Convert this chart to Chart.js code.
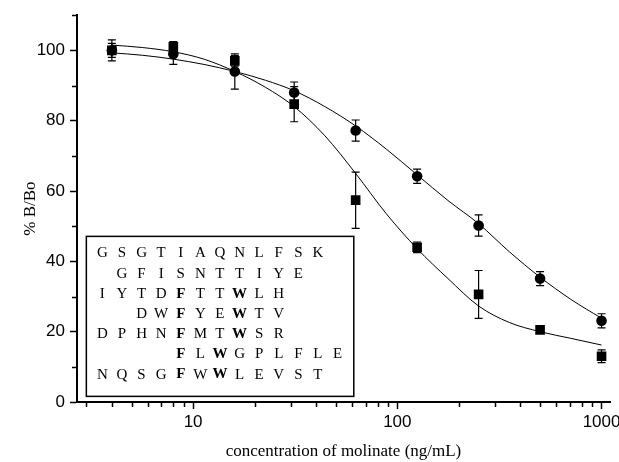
<!DOCTYPE html>
<html>
<head>
<meta charset="utf-8">
<script src="https://cdn.jsdelivr.net/npm/chart.js@4.4.0/dist/chart.umd.min.js"></script>
<style>
    body { margin: 0; background: #fff; }
    #wrap { width: 619px; height: 462px; }
</style>
</head>
<body>
<div id="wrap"><canvas id="chart" width="619" height="462"></canvas></div>
<script>
// concentrations (ng/mL)
const concentrations = [4, 8, 16, 31.25, 62.5, 125, 250, 500, 1000];
// squares
const squareValues = [100, 101, 97, 84.7, 57.4, 44, 30.6, 20.5, 13];
const squareErrors = [2, 1.5, 1.5, 5, 8, 1.5, 6.8, 0.8, 1.8];
// circles
const circleValues = [100, 99, 94, 88, 77.2, 64.2, 50.2, 35.1, 23.1];
const circleErrors = [3, 3, 5, 3, 3, 2, 3, 2, 2];

// fitted curves
const fitConc = [4, 5.66, 8, 11.3, 16, 22.6, 31.25, 44.2, 62.5, 88.4, 125, 177, 250, 354, 500, 707, 1000];
const squareFit = [101.5, 100.8, 99.6, 97.5, 94, 89.5, 84, 75.7, 65, 53.5, 43.6, 35.1, 27.3, 22.6, 20, 18.1, 16.2];
const circleFit = [99.3, 98.6, 97.5, 96, 94, 91.5, 88.5, 84, 78.5, 71.9, 64.6, 57.3, 50.7, 42.7, 35.5, 29.2, 23.8];

// ticks
const xMajor = [10, 100, 1000];
const xMinor = [3, 4, 5, 6, 7, 8, 9, 20, 30, 40, 50, 60, 70, 80, 90, 200, 300, 400, 500, 600, 700, 800, 900];
const yMajor = [0, 20, 40, 60, 80, 100];
const yMinor = [10, 30, 50, 70, 90, 110];

// inset peptide sequences: [start column, letters, bold columns]
const seqRows = [
    [0, 'GSGTIAQNLFSK', []],
    [1, 'GFISNTTIYE', []],
    [0, 'IYTDFTTWLH', [4, 7]],
    [2, 'DWFYEWTV', [4, 7]],
    [0, 'DPHNFMTWSR', [4, 7]],
    [4, 'FLWGPLFLE', [4, 6]],
    [0, 'NQSGFWWLEVST', [4, 6]]
];

const toXY = (xs, ys) => xs.map((x, i) => ({ x: x, y: ys[i] }));

const decor = {
    id: 'decor',
    beforeDatasetsDraw(chart) {
        const ctx = chart.ctx;
        const xs = chart.scales.x, ys = chart.scales.y;
        ctx.save();
        ctx.strokeStyle = '#000';
        ctx.lineWidth = 1.2;
        const bars = (vals, errs) => {
            concentrations.forEach((c, i) => {
                const px = xs.getPixelForValue(c);
                const top = ys.getPixelForValue(vals[i] + errs[i]);
                const bot = ys.getPixelForValue(vals[i] - errs[i]);
                ctx.beginPath();
                ctx.moveTo(px, top); ctx.lineTo(px, bot);
                ctx.moveTo(px - 4, top); ctx.lineTo(px + 4, top);
                ctx.moveTo(px - 4, bot); ctx.lineTo(px + 4, bot);
                ctx.stroke();
            });
        };
        bars(squareValues, squareErrors);
        bars(circleValues, circleErrors);
        ctx.restore();
    },
    afterDraw(chart) {
        const ctx = chart.ctx;
        const xs = chart.scales.x, ys = chart.scales.y;
        const area = chart.chartArea;
        ctx.save();
        ctx.strokeStyle = '#000';
        ctx.lineWidth = 1.5;
        // minor ticks
        ctx.beginPath();
        xMinor.forEach(v => {
            const px = Math.round(xs.getPixelForValue(v)) + 0.5;
            ctx.moveTo(px, area.bottom); ctx.lineTo(px, area.bottom + 5);
        });
        yMinor.forEach(v => {
            const py = Math.round(ys.getPixelForValue(v)) + 0.5;
            ctx.moveTo(area.left - 5, py); ctx.lineTo(area.left, py);
        });
        ctx.stroke();

        // inset box
        const left = xs.getPixelForValue(3.0);
        const right = xs.getPixelForValue(61.2);
        const top = ys.getPixelForValue(47.1);
        const bottom = ys.getPixelForValue(1.6);
        ctx.fillStyle = '#fff';
        ctx.fillRect(left, top, right - left, bottom - top);
        ctx.lineWidth = 1.5;
        ctx.strokeRect(left, top, right - left, bottom - top);

        ctx.fillStyle = '#000';
        ctx.textAlign = 'center';
        ctx.textBaseline = 'middle';
        seqRows.forEach((row, r) => {
            const [start, letters, bold] = row;
            letters.split('').forEach((ch, k) => {
                const col = start + k;
                ctx.font = bold.includes(col) ? "bold 15px 'Liberation Serif'" : "15px 'Liberation Serif'";
                ctx.fillText(ch, left + 16 + col * 19.6, top + 17 + r * 20.2);
            });
        });
        ctx.restore();
    }
};

const ctx = document.getElementById('chart').getContext('2d');
const chart = new Chart(ctx, {
    type: 'scatter',
    data: {
        datasets: [
            {
                type: 'line',
                data: toXY(fitConc, squareFit),
                borderColor: '#000',
                borderWidth: 1,
                pointRadius: 0,
                cubicInterpolationMode: 'monotone',
                fill: false
            },
            {
                type: 'line',
                data: toXY(fitConc, circleFit),
                borderColor: '#000',
                borderWidth: 1,
                pointRadius: 0,
                cubicInterpolationMode: 'monotone',
                fill: false
            },
            {
                data: toXY(concentrations, squareValues),
                pointStyle: 'rect',
                pointRadius: 6.8,
                backgroundColor: '#000',
                borderColor: '#000',
                borderWidth: 0
            },
            {
                data: toXY(concentrations, circleValues),
                pointStyle: 'circle',
                pointRadius: 5.3,
                backgroundColor: '#000',
                borderColor: '#000',
                borderWidth: 0
            }
        ]
    },
    options: {
        responsive: false,
        animation: false,
        layout: { padding: { left: 0, right: 9, top: 11, bottom: 0 } },
        plugins: {
            legend: { display: false },
            tooltip: { enabled: false }
        },
        scales: {
            x: {
                type: 'logarithmic',
                min: 2.7,
                max: 1100,
                afterBuildTicks: scale => { scale.ticks = xMajor.map(v => ({ value: v })); },
                afterFit: scale => {
                    scale.height = 60;
                    scale.paddingLeft = 0;
                    scale.paddingRight = 0;
                },
                ticks: {
                    color: '#000',
                    font: { family: "'Liberation Sans'", size: 17 },
                    padding: 3,
                    maxRotation: 0,
                    autoSkip: false,
                    callback: v => String(v)
                },
                grid: { drawOnChartArea: false, tickLength: 7, tickWidth: 1.5, tickColor: '#000' },
                border: { display: true, color: '#000', width: 2 },
                title: {
                    display: true,
                    text: 'concentration of molinate (ng/mL)',
                    color: '#000',
                    font: { family: "'Liberation Serif'", size: 17 },
                    padding: { top: 3, bottom: 0 }
                }
            },
            y: {
                min: 0,
                max: 110,
                afterBuildTicks: scale => { scale.ticks = yMajor.map(v => ({ value: v })); },
                afterFit: scale => { scale.width = 77; },
                ticks: {
                    color: '#000',
                    font: { family: "'Liberation Sans'", size: 17 },
                    padding: 5
                },
                grid: { drawOnChartArea: false, tickLength: 7, tickWidth: 1.5, tickColor: '#000' },
                border: { display: true, color: '#000', width: 2 },
                title: {
                    display: true,
                    text: '% B/Bo',
                    color: '#000',
                    font: { family: "'Liberation Serif'", size: 17 },
                    padding: { top: 20, bottom: 0 }
                }
            }
        }
    },
    plugins: [decor]
});
</script>
</body>
</html>
